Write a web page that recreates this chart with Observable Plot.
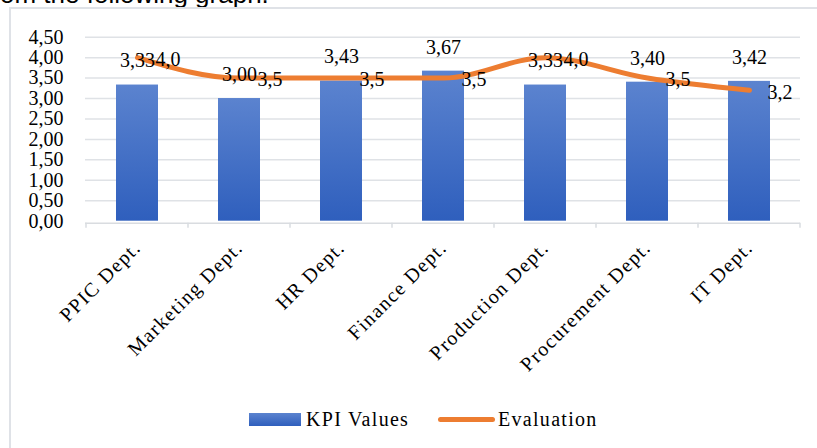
<!DOCTYPE html>
<html>
<head>
<meta charset="utf-8">
<script src="https://cdn.jsdelivr.net/npm/d3@7"></script>
<script src="https://cdn.jsdelivr.net/npm/@observablehq/plot@0.6"></script>
<style>
  html, body { margin: 0; padding: 0; background: #fff; }
  #wrap { position: relative; width: 817px; height: 448px; overflow: hidden; background: #fff; }
  #topText { position: absolute; left: 0; top: -19px; font: 26px/26px "Liberation Sans", Arial, sans-serif; color: #000; white-space: nowrap; }
  #frame { position: absolute; left: 9px; top: 7px; width: 830px; height: 460px; border: 2px solid #dfe2e7; box-sizing: border-box; }
  #chart { position: absolute; left: 0; top: 0; }
  #legend { position: absolute; left: 0; top: 404px; width: 817px; height: 30px; font: 20px "Liberation Serif", serif; color: #000; letter-spacing: 1.3px; }
  .item { position: absolute; top: 0; display: flex; align-items: center; height: 30px; white-space: nowrap; }
  .swatch { width: 52px; height: 13px; background: linear-gradient(#5b83cf, #2f5fbd); margin-right: 5px; }
  .lineSw { width: 57px; height: 5px; border-radius: 3px; background: #ED7D31; margin-right: 3px; }
  #chart svg [aria-label^="x-axis"] text { letter-spacing: 1.4px; }
</style>
</head>
<body>
<div id="wrap">
  <div id="topText">om the following graph.</div>
  <div id="frame"></div>
  <div id="chart"></div>
  <div id="legend"></div>
</div>
<script>
const categories = ["PPIC Dept.", "Marketing Dept.", "HR Dept.", "Finance Dept.", "Production Dept.", "Procurement Dept.", "IT Dept."];
const kpiValues = [3.33, 3.00, 3.43, 3.67, 3.33, 3.40, 3.42];
const evaluation = [4.0, 3.5, 3.5, 3.5, 4.0, 3.5, 3.2];
const yTicks = [0, 0.5, 1, 1.5, 2, 2.5, 3, 3.5, 4, 4.5];
const legendLabels = ["KPI Values", "Evaluation"];

const rows = categories.map((c, i) => ({dept: c, kpi: kpiValues[i], ev: evaluation[i]}));
const fmt2 = v => v.toFixed(2).replace(".", ",");
const fmt1 = v => v.toFixed(1).replace(".", ",");
const serif = "'Liberation Serif', serif";

const plot = Plot.plot({
  width: 817,
  height: 390,
  marginLeft: 85,
  marginRight: 17,
  marginTop: 36.7,
  marginBottom: 169.3,
  style: {fontFamily: serif, fontSize: "20px", color: "#000", background: "transparent", overflow: "visible"},
  x: {type: "band", domain: categories, padding: 0, tickRotate: -45, tickSize: 0, tickPadding: 23, label: null},
  y: {domain: [0, 4.5], ticks: yTicks, tickFormat: fmt2, tickSize: 0, tickPadding: 22, label: null},
  marks: [
    Plot.ruleY(yTicks.filter(t => t > 0), {stroke: "#dfe2e6", strokeWidth: 1.5}),
    Plot.barY(rows, {x: "dept", y: "kpi", fill: "url(#kpiGrad)", insetLeft: 30, insetRight: 30}),
    Plot.ruleY([0], {stroke: "#d9dce0", strokeWidth: 1.5, dy: 2}),
    Plot.line(rows, {x: "dept", y: "ev", stroke: "#ED7D31", strokeWidth: 5, curve: "monotone-x", strokeLinecap: "round", strokeLinejoin: "round"}),
    Plot.text(rows, {x: "dept", y: "kpi", text: d => fmt2(d.kpi), dy: -24, fill: "#000", fontFamily: serif, fontSize: 20}),
    Plot.text(rows, {x: "dept", y: "ev", text: d => fmt1(d.ev), dx: 18, dy: 2, textAnchor: "start", fill: "#000", fontFamily: serif, fontSize: 20})
  ]
});

// gradient for bars
const svg = d3.select(plot);
const defs = svg.insert("defs", ":first-child");
const grad = defs.append("linearGradient").attr("id", "kpiGrad").attr("x1", 0).attr("y1", 0).attr("x2", 0).attr("y2", 1);
grad.append("stop").attr("offset", "0%").attr("stop-color", "#5b83cf");
grad.append("stop").attr("offset", "100%").attr("stop-color", "#2f5fbd");

// category boundary ticks drawn from the plot's own scales
const xs = plot.scale("x"), ys = plot.scale("y");
const y0 = ys.apply(0) + 2;
const bounds = categories.map(c => xs.apply(c)).concat([xs.apply(categories[categories.length - 1]) + xs.bandwidth]);
svg.append("g").selectAll("line").data(bounds).join("line")
  .attr("x1", d => d).attr("x2", d => d)
  .attr("y1", y0).attr("y2", y0 + 5)
  .attr("stroke", "#d9dce0").attr("stroke-width", 1.5);

document.getElementById("chart").appendChild(plot);

// legend
const legend = document.getElementById("legend");
const it1 = document.createElement("div");
it1.className = "item"; it1.style.left = "249px";
it1.innerHTML = `<div class="swatch"></div><span>${legendLabels[0]}</span>`;
const it2 = document.createElement("div");
it2.className = "item"; it2.style.left = "438px";
it2.innerHTML = `<div class="lineSw"></div><span>${legendLabels[1]}</span>`;
legend.appendChild(it1); legend.appendChild(it2);
</script>
</body>
</html>
